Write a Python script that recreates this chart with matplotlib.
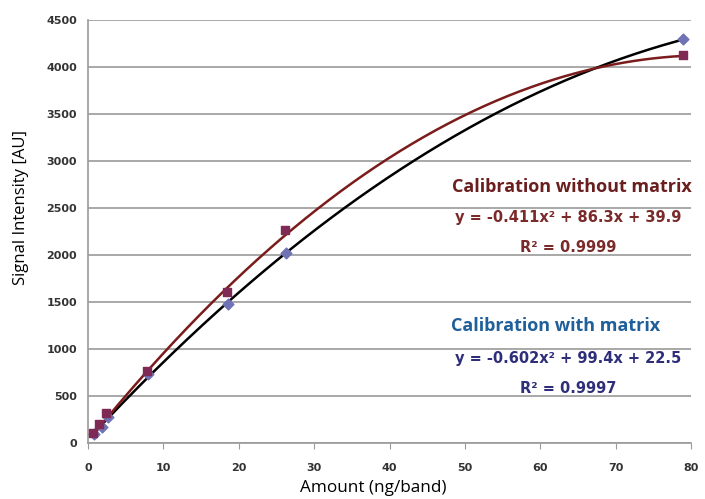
import numpy as np
import matplotlib.pyplot as plt

x_square = [0.7, 1.5, 2.4, 7.8, 18.4, 26.1, 78.9]
y_square = [110, 202, 322, 769, 1610, 2270, 4128]
x_diamond = [0.8, 1.8, 2.7, 7.9, 18.5, 26.3, 78.9]
y_diamond = [95, 175, 275, 730, 1478, 2024, 4294]

# trendline coefficients as printed on the chart
coef_without = [-0.411, 86.3, 39.9]
coef_with = [-0.602, 99.4, 22.5]

x_ticks = [0, 10, 20, 30, 40, 50, 60, 70, 80]
y_ticks = [0, 500, 1000, 1500, 2000, 2500, 3000, 3500, 4000, 4500]

fig = plt.figure(figsize=(7.05, 4.99), dpi=100)
ax = fig.add_axes([0.125, 0.112, 0.855, 0.848])

xs = np.linspace(0.5, 78.9, 300)
ax.plot(xs, np.polyval(coef_without, xs), color='black', lw=1.8, zorder=3)
ax.plot(xs, np.polyval(coef_with, xs), color='#7a1c1c', lw=1.8, zorder=3)

ax.scatter(x_diamond, y_diamond, marker='D', s=30, color='#6f72b4', zorder=4)
ax.scatter(x_square, y_square, marker='s', s=36, color='#7f2a55', zorder=5)

ax.set_xlim(0, 80)
ax.set_ylim(0, 4500)
ax.set_xticks(x_ticks)
ax.set_yticks(y_ticks)
ax.grid(axis='y', color='#9a9a9a', lw=1.2)
ax.set_axisbelow(True)
for s in ['top', 'right']:
    ax.spines[s].set_visible(False)
for s in ['left', 'bottom']:
    ax.spines[s].set_color('#9a9a9a')
    ax.spines[s].set_linewidth(1.2)
ax.tick_params(axis='y', length=0, pad=8)
ax.tick_params(axis='x', length=4, color='#9a9a9a', pad=10)
for lab in ax.get_xticklabels() + ax.get_yticklabels():
    lab.set_fontfamily('DejaVu Sans')
    lab.set_fontweight('bold')
    lab.set_fontsize(8)
    lab.set_color('#333333')

ax.set_xlabel('Amount (ng/band)', fontsize=12.3, family='Open Sans')
ax.set_ylabel('Signal Intensity [AU]', fontsize=12, family='Open Sans')
ax.xaxis.set_label_coords(0.473, -0.086)
ax.yaxis.set_label_coords(-0.098, 0.556)

# annotations
ax.text(0.802, 0.605, 'Calibration without matrix', transform=ax.transAxes, ha='center',
        va='center', fontsize=13, family='Open Sans', fontweight='bold', color='#6b1e1e')
ax.text(0.796, 0.532, 'y = -0.411x² + 86.3x + 39.9', transform=ax.transAxes, ha='center',
        va='center', fontsize=10.5, family='DejaVu Sans', fontweight='bold', color='#7b2a2a')
ax.text(0.796, 0.463, 'R² = 0.9999', transform=ax.transAxes, ha='center',
        va='center', fontsize=10.5, family='DejaVu Sans', fontweight='bold', color='#7b2a2a')

ax.text(0.775, 0.277, 'Calibration with matrix', transform=ax.transAxes, ha='center',
        va='center', fontsize=13, family='Open Sans', fontweight='bold', color='#1f5f9a')
ax.text(0.796, 0.201, 'y = -0.602x² + 99.4x + 22.5', transform=ax.transAxes, ha='center',
        va='center', fontsize=10.5, family='DejaVu Sans', fontweight='bold', color='#2e2e7a')
ax.text(0.796, 0.130, 'R² = 0.9997', transform=ax.transAxes, ha='center',
        va='center', fontsize=10.5, family='DejaVu Sans', fontweight='bold', color='#2e2e7a')

fig.savefig('out.png', dpi=100)
